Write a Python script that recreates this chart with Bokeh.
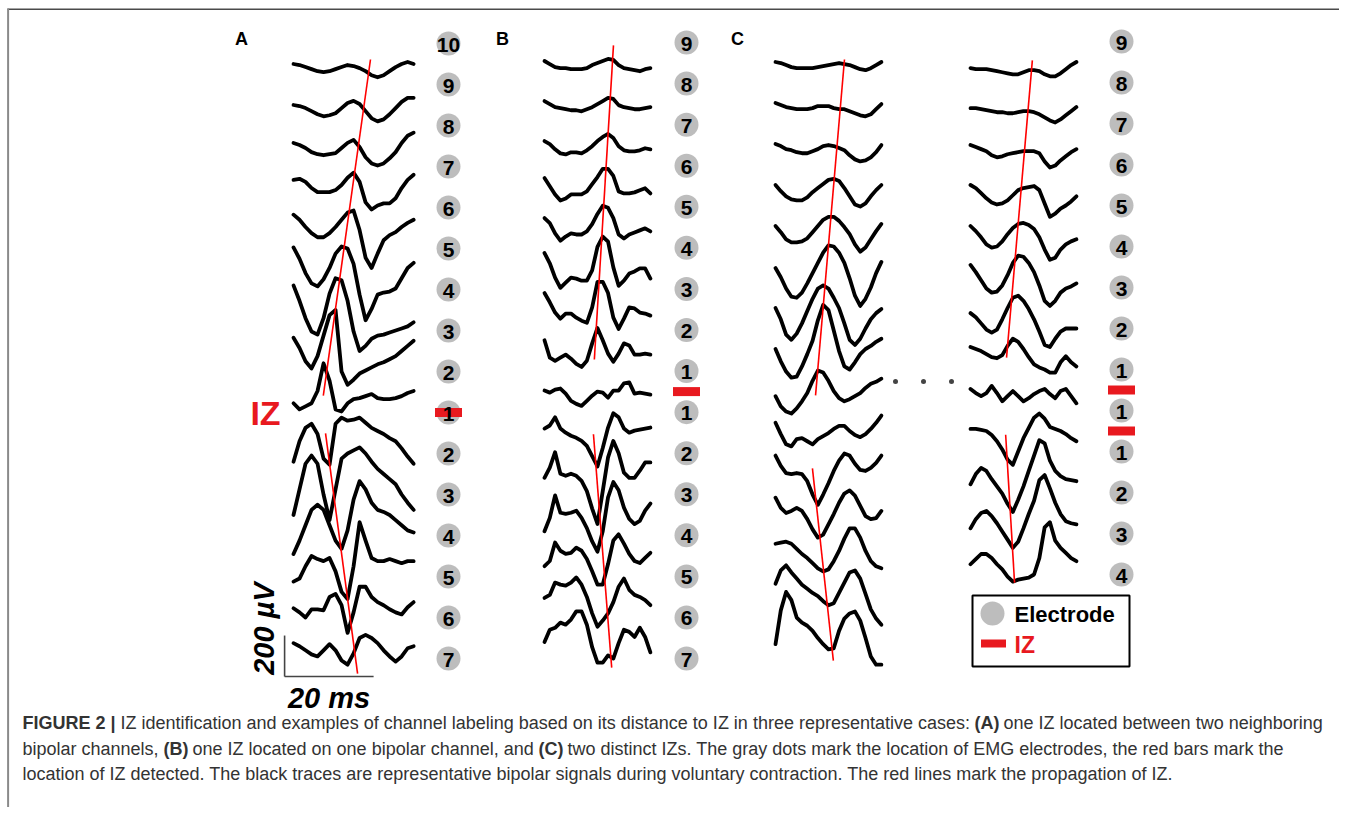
import numpy as np
from bokeh.plotting import figure
from bokeh.models import Range1d
from bokeh.embed import file_html
from bokeh.resources import INLINE
from bokeh.core.properties import value

FONT = value("Liberation Sans")

# ---------------- data ----------------
A_LABELS = ["10", "9", "8", "7", "6", "5", "4", "3", "2", "1", "2", "3", "4", "5", "6", "7"]
A_IZ_ROWS = [9.0]
B_LABELS = ["9", "8", "7", "6", "5", "4", "3", "2", "1", "1", "2", "3", "4", "5", "6", "7"]
B_IZ_ROWS = [8.5]
C_LABELS = ["9", "8", "7", "6", "5", "4", "3", "2", "1", "1", "1", "2", "3", "4"]
C_IZ_ROWS = [8.5, 9.5]

# bipolar traces (uV), uniformly sampled over the window
A_TRACES_UV = [
    [0, -5, -15, -25, -35, -40, -35, -25, -15, -5, -10, -20, -35, -55, -65, -55, -35, -15, 0, 10, 0],
    [0, -5, -15, -30, -45, -55, -50, -40, -15, 10, 20, 5, -30, -65, -80, -70, -45, -15, 15, 35, 35],
    [15, 5, -10, -30, -40, -45, -40, -35, -10, 15, 30, -5, -55, -85, -95, -85, -60, -30, 15, 50, 65],
    [35, 40, 25, -5, -25, -25, -25, -15, 10, 45, 70, 25, -75, -110, -90, -80, -80, -55, -5, 35, 60],
    [65, 40, 5, -25, -45, -45, -25, 5, 40, 75, 85, -10, -145, -195, -125, -60, -35, -20, 5, 25, 40],
    [105, 50, -20, -70, -85, -50, 5, 75, 110, 100, 25, -125, -250, -195, -125, -115, -110, -95, -45, 5, 30],
    [120, 45, -40, -105, -120, -40, 80, 155, 145, 45, -105, -200, -175, -140, -125, -120, -110, -100, -90, -80, -60],
    [65, 15, -50, -85, -25, 75, 175, 200, -100, -165, -140, -110, -95, -80, -65, -55, -40, -25, 0, 25, 50],
    [-55, -85, -70, -55, 5, 140, 55, -85, -95, -55, -35, -30, -20, -10, -30, -35, -35, -30, -20, -5, 5],
    [-140, -40, 25, 45, -5, -125, -155, 45, 75, 60, 65, 75, 50, 25, 10, -5, -25, -40, -75, -115, -150],
    [-200, -75, 50, 90, 50, -100, -225, -75, 75, 100, 115, 130, 100, 60, 25, 0, -25, -50, -100, -140, -175],
    [-190, -125, -50, 25, 50, 25, -50, -125, -165, -75, 75, 165, 125, 60, 25, 15, 0, -25, -50, -75, -85],
    [-125, -110, -50, 0, -15, -25, -10, -75, -175, -210, -50, 165, 75, -10, -25, -25, -15, -25, -35, -25, -25],
    [-55, -75, -100, -60, -60, -65, 0, 15, -40, -175, -75, 50, 50, 0, -25, -40, -60, -75, -85, -50, -25],
    [-25, -40, -60, -80, -90, -60, -30, -60, -110, -130, -75, 0, 15, 0, -25, -60, -90, -115, -90, -50, -40],
]
B_TRACES_UV = [
    [10, -5, -20, -25, -25, -30, -30, -30, -25, -10, 0, 10, 20, 15, -10, -25, -30, -35, -40, -30, -25],
    [15, 0, -15, -20, -25, -30, -30, -35, -25, -15, 0, 15, 30, 25, -5, -15, -20, -25, -25, -20, -15],
    [20, 5, -20, -40, -45, -35, -35, -40, -25, -5, 20, 40, 55, 35, -5, -25, -30, -30, -25, -15, -20],
    [40, 0, -40, -70, -60, -40, -40, -40, -25, 10, 45, 85, 85, 50, -25, -35, -35, -30, -20, -10, -35],
    [45, 20, -30, -65, -45, -30, -35, -35, -20, 15, 65, 105, 95, 45, -35, -55, -35, -25, -15, -5, -20],
    [75, 25, -45, -95, -70, -45, -50, -60, -60, -10, 105, 155, 130, 5, -85, -60, -25, -15, 0, 0, -50],
    [80, 35, -15, -45, -20, -20, -40, -55, -65, 10, 135, 135, 80, -40, -95, -45, 10, 5, -15, -20, -30],
    [50, -35, -50, -35, -20, -40, -65, -80, -50, 35, 110, 50, -15, -55, -15, 35, 25, -20, -20, -15, -20],
    [5, -5, 10, 15, -10, -45, -60, -70, -45, -20, 0, -5, -30, 5, 5, 40, 45, -10, -5, -10, -15],
    [20, 35, 75, 20, 0, -15, -25, -40, -65, -115, -165, -75, 25, 95, 75, 20, 0, 10, 15, 20, 25],
    [-20, 30, 105, 0, -10, 0, -10, -35, -85, -170, -245, -85, 80, 160, 100, 5, -20, -20, 15, 55, 55],
    [-80, -15, 95, 10, 5, 10, 20, -15, -65, -130, -180, -80, 85, 160, 120, 35, -20, -45, -30, 20, 55],
    [-50, -25, 65, 25, 10, 15, 40, 25, -15, -75, -140, -140, -40, 75, 105, 60, 10, -25, -35, -10, 15],
    [-5, 10, 70, 60, 55, 70, 95, 60, 0, -80, -145, -115, -80, -25, 50, 90, 35, 10, 0, -15, -40],
    [-20, 40, 50, 75, 65, 90, 130, 130, 65, -45, -120, -120, -85, -100, -25, 40, 30, 5, 50, 5, -70],
]
C_LEFT_TRACES_UV = [
    [0, -5, -15, -25, -30, -30, -30, -30, -25, -20, -15, -10, -5, -10, -15, -25, -35, -40, -30, -15, 0],
    [0, -10, -20, -25, -30, -30, -30, -25, -15, -15, -15, -25, -30, -30, -40, -50, -60, -65, -55, -30, -5],
    [0, -10, -25, -30, -40, -45, -45, -35, -25, -10, -5, -10, -20, -30, -55, -75, -85, -80, -65, -40, -5],
    [0, -30, -55, -70, -75, -75, -60, -35, -15, 5, 25, 30, 20, -15, -55, -95, -105, -90, -55, -25, 0],
    [0, -30, -65, -80, -80, -75, -60, -30, 0, 30, 45, 45, 25, -5, -40, -90, -125, -105, -65, -25, 10],
    [-5, -50, -105, -145, -150, -125, -80, -30, 20, 70, 105, 100, 70, 20, -55, -140, -190, -155, -100, -30, 25],
    [0, -55, -130, -155, -125, -75, -15, 45, 95, 110, 95, 50, 0, -75, -155, -180, -150, -100, -55, -25, -5],
    [0, -60, -110, -140, -135, -85, -25, 40, 140, 215, 190, 90, -10, -85, -100, -65, -25, 0, 15, 35, 50],
    [-30, -80, -105, -115, -90, -55, -15, 45, 95, 85, 45, -5, -40, -55, -45, -30, -15, 10, 30, 40, 55],
    [40, -15, -65, -75, -40, -35, -50, -65, -40, -25, -10, 10, 25, 25, 0, -20, -30, -15, 10, 40, 75],
    [80, 30, -5, -10, -5, -10, -45, -110, -160, -110, -55, 5, 55, 90, 80, 40, 10, 5, 20, 45, 80],
    [75, 25, 0, 10, 25, 10, -30, -80, -120, -105, -55, -5, 50, 95, 110, 85, 35, -15, -30, -25, 10],
    [50, 55, 60, 50, 25, 0, -20, -45, -70, -85, -75, -35, 15, 75, 125, 125, 80, 15, -35, -60, -70],
    [55, 120, 145, 110, 80, 50, 30, 10, -5, -30, -50, -40, 10, 60, 110, 120, 80, 5, -70, -115, -145],
    [-40, 125, 215, 175, 90, 65, 50, 25, -10, -40, -65, -60, 25, 85, 110, 120, 75, -10, -100, -140, -140],
]
C_RIGHT_TRACES_UV = [
    [-30, -35, -35, -35, -40, -45, -50, -55, -60, -60, -50, -40, -40, -45, -60, -70, -70, -55, -35, -15, 0],
    [-25, -25, -30, -35, -40, -45, -45, -50, -50, -45, -40, -40, -45, -55, -70, -85, -95, -80, -60, -40, -20],
    [-5, -15, -25, -35, -55, -65, -60, -50, -45, -40, -35, -35, -35, -45, -85, -115, -105, -80, -60, -40, -25],
    [0, -15, -40, -65, -85, -95, -90, -75, -50, -25, -15, -10, -5, -25, -90, -155, -140, -115, -100, -80, -55],
    [0, -25, -55, -90, -105, -100, -75, -40, -10, 10, 15, 5, -15, -55, -115, -165, -155, -115, -90, -75, -65],
    [10, -25, -65, -105, -125, -120, -90, -40, 20, 55, 50, 20, -25, -90, -165, -190, -165, -125, -105, -95, -80],
    [-25, -45, -75, -105, -120, -105, -55, 0, 50, 60, 35, -5, -55, -115, -180, -190, -150, -115, -100, -100, -100],
    [10, 0, -10, -25, -40, -45, -30, 15, 50, 35, 0, -40, -75, -90, -100, -115, -115, -65, -35, -65, -85],
    [5, -15, -30, -15, 20, -15, -55, -30, -5, -30, -55, -40, -20, -5, 5, -20, -40, -5, 5, -30, -65],
    [10, 10, 5, 0, -20, -50, -90, -140, -165, -100, -35, 15, 65, 85, 60, 20, 10, 0, -15, -35, -50],
    [-60, -10, 20, 5, -35, -70, -105, -155, -195, -135, -70, 5, 80, 155, 140, 55, 5, -20, -35, -40, -45],
    [-75, -30, 0, 10, -15, -50, -90, -130, -170, -140, -75, -5, 60, 160, 185, 120, 50, -5, -40, -50, -55],
    [-50, -25, 0, 0, -20, -50, -75, -110, -135, -125, -120, -115, -100, -20, 130, 155, 65, 30, 5, -20, -35],
]

# propagation lines: (times in ms, positions in electrode rows)
A_PROP_T = [[17.3, 6.7], [7.2, 14.4]]
A_PROP_ROW = [[0.39, 8.59], [9.51, 15.37]]
B_PROP_T = [[15.5, 11.2], [11.0, 15.1]]
B_PROP_ROW = [[0.07, 7.72], [9.54, 15.22]]
CL_PROP_T = [[15.5, 9.0], [8.3, 13.0]]
CL_PROP_ROW = [[0.44, 8.63], [10.41, 15.1]]
CR_PROP_T = [[13.9, 8.1], [7.9, 9.9]]
CR_PROP_ROW = [[0.46, 7.71], [9.59, 13.2]]

SCALE_MS = 20
SCALE_UV = 200
A_WINDOW_MS = 27.0
BC_WINDOW_MS = 23.8

# ---------------- layout ----------------
W, H = 1339, 807
PX_PER_MS = 89.0 / 20.0
PX_PER_UV = 41.0 / 200.0
GEOM = {
    "A": dict(x0=293, y0=43, sp=41.0, lab_x=448),
    "B": dict(x0=544, y0=42, sp=41.07, lab_x=686),
    "CL": dict(x0=775, y0=41, sp=41.0),
    "CR": dict(x0=970, y0=41, sp=41.0, lab_x=1121),
}
RED = "#e8191f"
GRAY = "#bdbdbd"


def gx(g, t):
    return GEOM[g]["x0"] + np.asarray(t, dtype=float) * PX_PER_MS


def gy(g, row, uv=0.0):
    return GEOM[g]["y0"] + np.asarray(row, dtype=float) * GEOM[g]["sp"] - np.asarray(uv, dtype=float) * PX_PER_UV


p = figure(width=W, height=H, x_range=Range1d(0, W), y_range=Range1d(H, 0),
           output_backend="svg", toolbar_location=None, min_border=0)
p.axis.visible = False
p.grid.visible = False
p.outline_line_color = None
p.background_fill_color = "white"
p.border_fill_color = "white"

# frame lines of the figure box
p.segment(x0=[7], y0=[8.8], x1=[W], y1=[8.8], line_color="#4a4a4a", line_width=1.6)
p.segment(x0=[7.6], y0=[8], x1=[7.6], y1=[H], line_color="#8a8a8a", line_width=2)

# traces
for g, traces, dur in [("A", A_TRACES_UV, A_WINDOW_MS), ("B", B_TRACES_UV, BC_WINDOW_MS),
                       ("CL", C_LEFT_TRACES_UV, BC_WINDOW_MS), ("CR", C_RIGHT_TRACES_UV, BC_WINDOW_MS)]:
    xs, ys = [], []
    for i, tr in enumerate(traces):
        t = np.linspace(0, dur, len(tr))
        xs.append(list(gx(g, t)))
        ys.append(list(gy(g, i + 0.5, tr)))
    p.multi_line(xs, ys, line_color="black", line_width=3.8, line_join="round", line_cap="round")

# propagation lines
for g, T, R in [("A", A_PROP_T, A_PROP_ROW), ("B", B_PROP_T, B_PROP_ROW),
                ("CL", CL_PROP_T, CL_PROP_ROW), ("CR", CR_PROP_T, CR_PROP_ROW)]:
    p.multi_line([list(gx(g, t)) for t in T], [list(gy(g, r)) for r in R],
                 line_color="#ff0000", line_width=1.6)

# electrodes, IZ bars and numbers
for g, labels, iz in [("A", A_LABELS, A_IZ_ROWS), ("B", B_LABELS, B_IZ_ROWS), ("CR", C_LABELS, C_IZ_ROWS)]:
    rows = np.arange(len(labels))
    lx = [GEOM[g]["lab_x"]] * len(labels)
    p.scatter(lx, gy(g, rows), marker="circle", size=24, fill_color=GRAY, line_color=None)
    p.rect([GEOM[g]["lab_x"]] * len(iz), gy(g, iz), width=27, height=9, fill_color=RED, line_color=None)
    p.text(lx, gy(g, rows) + 1, text=labels, text_font=FONT, text_font_style="bold",
           text_font_size="21px", text_align="center", text_baseline="middle", text_color="black")

# panel letters
p.text([241, 502, 737], [38, 38, 38], text=["A", "B", "C"], text_font=FONT, text_font_style="bold",
       text_font_size="18px", text_align="center", text_baseline="middle", text_color="black")

# IZ label in A
p.text([265], [gy("A", 9.0)], text=["IZ"], text_font=FONT, text_font_style="bold",
       text_font_size="34px", text_align="center", text_baseline="middle", text_color=RED)

# scale bar (panel A frame)
sb_t0, sb_row = -2.0, 15.44
sbx0 = float(gx("A", sb_t0))
sbx1 = float(gx("A", sb_t0 + SCALE_MS))
sby0 = float(gy("A", sb_row))
sby1 = float(gy("A", sb_row, SCALE_UV))
p.segment(x0=[sbx0, sbx0], y0=[sby0, sby0], x1=[sbx1, sbx0], y1=[sby0, sby1],
          line_color="#444444", line_width=1.6)
p.text([(sbx0 + sbx1) / 2], [sby0 + 21], text=["%d ms" % SCALE_MS], text_font=FONT,
       text_font_style="bold italic", text_font_size="29px", text_align="center",
       text_baseline="middle", text_color="black")
p.text([sbx0 - 21], [sby0 - 48], text=["%d µV" % SCALE_UV], text_font=FONT, angle=np.pi / 2,
       text_font_style="bold italic", text_font_size="29px", text_align="center",
       text_baseline="middle", text_color="black")

# dots between the C columns
p.scatter([895, 923, 951], [381, 381, 381], marker="circle", size=5, fill_color="#444444", line_color=None)

# legend box
p.rect([1050.5], [630.5], width=157, height=71, fill_color="white", line_color="black", line_width=2)
p.scatter([992], [613], marker="circle", size=24, fill_color=GRAY, line_color=None)
p.rect([993], [643], width=25, height=8, fill_color=RED, line_color=None)
p.text([1014], [614], text=["Electrode"], text_font=FONT, text_font_style="bold", text_font_size="22px",
       text_align="left", text_baseline="middle", text_color="black")
p.text([1014], [644], text=["IZ"], text_font=FONT, text_font_style="bold", text_font_size="23px",
       text_align="left", text_baseline="middle", text_color=RED)

# caption
CAPTION = [
    (22, 722, "FIGURE 2 |", "bold"),
    (120, 722, "IZ identification and examples of channel labeling based on its distance to IZ in three representative cases:", "normal"),
    (974, 722, "(A)", "bold"),
    (1003, 722, "one IZ located between two neighboring", "normal"),
    (22, 748, "bipolar channels,", "normal"),
    (163, 748, "(B)", "bold"),
    (192, 748, "one IZ located on one bipolar channel, and", "normal"),
    (538, 748, "(C)", "bold"),
    (567, 748, "two distinct IZs. The gray dots mark the location of EMG electrodes, the red bars mark the", "normal"),
    (22, 773, "location of IZ detected. The black traces are representative bipolar signals during voluntary contraction. The red lines mark the propagation of IZ.", "normal"),
]
for x, y, s, style in CAPTION:
    p.text([x], [y], text=[s], text_font=FONT, text_font_style=style, text_font_size="18px",
           text_align="left", text_baseline="middle", text_color="#333333")

open("out.html", "w").write(file_html(p, INLINE))
